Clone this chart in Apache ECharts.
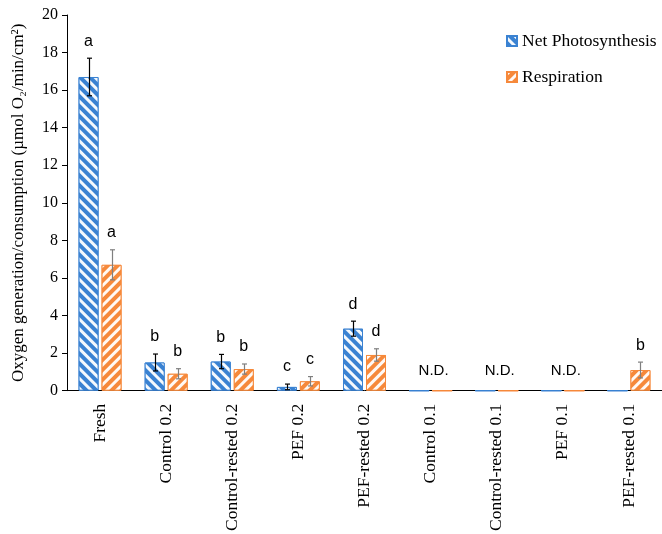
<!DOCTYPE html>
<html>
<head>
<meta charset="utf-8">
<script src="https://cdn.jsdelivr.net/npm/echarts@6/dist/echarts.min.js"></script>
<style>
  html, body { margin: 0; padding: 0; background: #fff; }
  #chart { width: 662px; height: 534px; }
</style>
</head>
<body>
<div id="chart"></div>
<script>
// Treatments along the x axis
const categories = ['Fresh', 'Control 0.2', 'Control-rested 0.2', 'PEF 0.2', 'PEF-rested 0.2',
  'Control 0.1', 'Control-rested 0.1', 'PEF 0.1', 'PEF-rested 0.1'];

// Net photosynthesis (µmol O2/min/cm2) and its error
const photoValues = [16.7, 1.5, 1.55, 0.2, 3.3, 0, 0, 0, 0];
const photoErrors = [1.0, 0.45, 0.38, 0.15, 0.4, 0, 0, 0, 0];
const photoLetters = ['a', 'b', 'b', 'c', 'd', '', '', '', ''];

// Respiration (µmol O2/min/cm2) and its error
const respValues = [6.7, 0.9, 1.15, 0.5, 1.9, 0, 0, 0, 1.1];
const respErrors = [0.8, 0.27, 0.27, 0.25, 0.33, 0, 0, 0, 0.42];
const respLetters = ['a', 'b', 'b', 'c', 'd', '', '', '', 'b'];

// Groups with no detectable activity
const ndLabels = ['', '', '', '', '', 'N.D.', 'N.D.', 'N.D.', ''];

// Y axis ticks
const yMin = 0, yMax = 20, yStep = 2;

const BLUE = '#3A82D2';
const ORANGE = '#F6893B';
const BAR_W = 20;
const HALF_PAIR = 11.5; // distance from category centre to each bar centre

const serif = '"Liberation Serif", "Times New Roman", serif';
const sans = '"Liberation Sans", Arial, sans-serif';

function stripes(rot) {
  return {
    symbol: 'rect', symbolSize: 1, color: 'rgba(255,255,255,0.95)',
    dashArrayX: [1, 0], dashArrayY: [2.6, 3.2], rotation: rot
  };
}

function errorSeries(values, errors, offset, color) {
  return {
    type: 'custom',
    coordinateSystem: 'cartesian2d',
    silent: true,
    z: 5,
    data: values.map((v, i) => [i, v, errors[i]]),
    renderItem: function (params, api) {
      const i = api.value(0), v = api.value(1), e = api.value(2);
      if (!e) return null;
      const top = api.coord([i, v + e]);
      const bot = api.coord([i, v - e]);
      const x = Math.round(top[0] + offset) + 0.5;
      const st = { stroke: color, lineWidth: 1.2 };
      return {
        type: 'group',
        children: [
          { type: 'line', shape: { x1: x, y1: top[1], x2: x, y2: bot[1] }, style: st },
          { type: 'line', shape: { x1: x - 2.5, y1: top[1], x2: x + 2.5, y2: top[1] }, style: st },
          { type: 'line', shape: { x1: x - 2.5, y1: bot[1], x2: x + 2.5, y2: bot[1] }, style: st }
        ]
      };
    }
  };
}

function letterSeries(values, errors, letters, offset) {
  return {
    type: 'custom',
    coordinateSystem: 'cartesian2d',
    silent: true,
    z: 6,
    data: values.map((v, i) => [i, v + errors[i]]),
    renderItem: function (params, api) {
      const i = api.value(0);
      const txt = letters[i];
      if (!txt) return null;
      const p = api.coord([i, api.value(1)]);
      return {
        type: 'text',
        style: {
          x: p[0] + offset, y: p[1] - 9, text: txt,
          align: 'center', verticalAlign: 'bottom',
          font: '16px ' + sans, fill: '#000'
        }
      };
    }
  };
}

const ndSeries = {
  type: 'custom',
  coordinateSystem: 'cartesian2d',
  silent: true,
  z: 6,
  data: ndLabels.map((t, i) => [i, 0]),
  renderItem: function (params, api) {
    const i = api.value(0);
    const txt = ndLabels[i];
    if (!txt) return null;
    const p = api.coord([i, 0]);
    return {
      type: 'text',
      style: {
        x: p[0] + 3, y: p[1] - 20, text: txt,
        align: 'center', verticalAlign: 'middle',
        font: '15px ' + sans, fill: '#000'
      }
    };
  }
};

const chart = echarts.init(document.getElementById('chart'), null, { renderer: 'canvas' });

chart.setOption({
  animation: false,
  backgroundColor: '#fff',
  grid: { left: 67, right: -9, top: 15, bottom: 142, containLabel: false },
  legend: {
    data: ['Net Photosynthesis', 'Respiration'],
    orient: 'vertical',
    left: 501, top: 27,
    itemWidth: 10, itemHeight: 10, itemGap: 18,
    icon: 'rect',
    textStyle: { fontFamily: serif, fontSize: 17.5, color: '#000', padding: [0, 0, 0, 0] }
  },
  xAxis: {
    type: 'category',
    data: categories,
    axisLine: { show: true, lineStyle: { color: '#000', width: 1 } },
    axisTick: { show: false },
    axisLabel: {
      rotate: 90, interval: 0, margin: 13,
      fontFamily: serif, fontSize: 17.5, color: '#000'
    },
    splitLine: { show: false }
  },
  yAxis: {
    type: 'value',
    min: yMin, max: yMax, interval: yStep,
    axisLine: { show: true, lineStyle: { color: '#000', width: 1 } },
    axisTick: { show: true, inside: false, length: 5, lineStyle: { color: '#000' } },
    axisLabel: { fontFamily: serif, fontSize: 16, color: '#000', margin: 9 },
    splitLine: { show: false },
    name: 'Oxygen generation/consumption (\u00b5mol O\u2082/min/cm\u00b2)',
    nameLocation: 'middle',
    nameRotate: 90,
    nameGap: 40,
    nameTextStyle: { fontFamily: serif, fontSize: 17, color: '#000' }
  },
  series: [
    {
      name: 'Net Photosynthesis',
      type: 'bar',
      data: photoValues,
      barWidth: BAR_W,
      barGap: '15%',
      itemStyle: { color: BLUE, borderColor: BLUE, borderWidth: 1, decal: stripes(Math.PI / 4) }
    },
    {
      name: 'Respiration',
      type: 'bar',
      data: respValues,
      barWidth: BAR_W,
      barGap: '15%',
      itemStyle: { color: ORANGE, borderColor: ORANGE, borderWidth: 1, decal: stripes(-Math.PI / 4) }
    },
    errorSeries(photoValues, photoErrors, -HALF_PAIR, '#000'),
    errorSeries(respValues, respErrors, HALF_PAIR, '#7f7f7f'),
    letterSeries(photoValues, photoErrors, photoLetters, -HALF_PAIR),
    letterSeries(respValues, respErrors, respLetters, HALF_PAIR),
    ndSeries
  ]
});
</script>
</body>
</html>
